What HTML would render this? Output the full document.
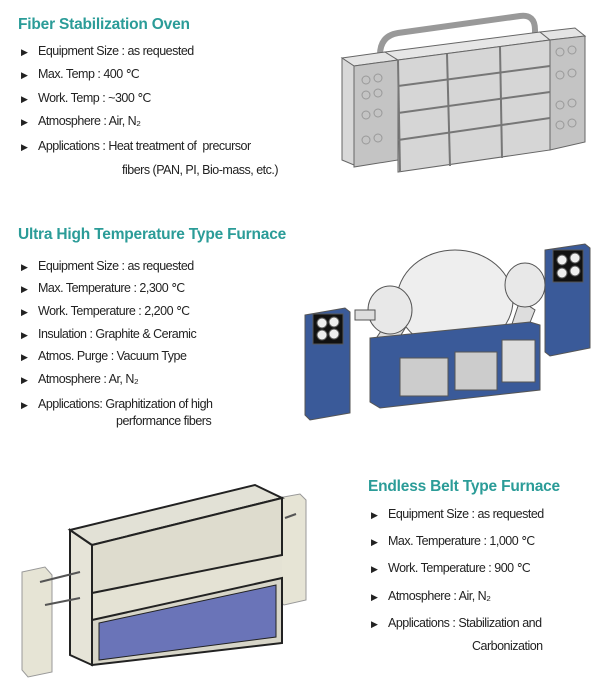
<!DOCTYPE html>
<html><head><meta charset="utf-8"><style>
body{margin:0;width:600px;height:700px;background:#fff;position:relative;overflow:hidden;font-family:"Liberation Sans",sans-serif;}
.t{position:absolute;color:#2b9c98;font-weight:bold;font-size:15.5px;white-space:nowrap;letter-spacing:-0.2px}
.l{position:absolute;font-size:12.5px;color:#222;white-space:nowrap;letter-spacing:-0.5px;line-height:14px}
.l:before{content:"\25B6";font-size:9px;position:absolute;left:-17px;top:1px}
.n{position:absolute;font-size:12.5px;color:#222;white-space:nowrap;letter-spacing:-0.5px;line-height:14px}
svg{position:absolute;left:0;top:0}
</style></head><body>
<div class="t" style="left:18px;top:16px">Fiber Stabilization Oven</div>
<div class="l" style="left:38px;top:44px">Equipment Size : as requested</div>
<div class="l" style="left:38px;top:67px">Max. Temp : 400 ℃</div>
<div class="l" style="left:38px;top:91px">Work. Temp : ~300 ℃</div>
<div class="l" style="left:38px;top:114px">Atmosphere : Air, N₂</div>
<div class="l" style="left:38px;top:139px">Applications : Heat treatment of &nbsp;precursor</div>
<div class="n" style="left:122px;top:163px">fibers (PAN, PI, Bio-mass, etc.)</div>

<div class="t" style="left:18px;top:226px">Ultra High Temperature Type Furnace</div>
<div class="l" style="left:38px;top:259px">Equipment Size : as requested</div>
<div class="l" style="left:38px;top:281px">Max. Temperature : 2,300 ℃</div>
<div class="l" style="left:38px;top:304px">Work. Temperature : 2,200 ℃</div>
<div class="l" style="left:38px;top:327px">Insulation : Graphite &amp; Ceramic</div>
<div class="l" style="left:38px;top:349px">Atmos. Purge : Vacuum Type</div>
<div class="l" style="left:38px;top:372px">Atmosphere : Ar, N₂</div>
<div class="l" style="left:38px;top:397px">Applications: Graphitization of high</div>
<div class="n" style="left:116px;top:414px">performance fibers</div>

<div class="t" style="left:368px;top:478px">Endless Belt Type Furnace</div>
<div class="l" style="left:388px;top:507px">Equipment Size : as requested</div>
<div class="l" style="left:388px;top:534px">Max. Temperature : 1,000 ℃</div>
<div class="l" style="left:388px;top:561px">Work. Temperature : 900 ℃</div>
<div class="l" style="left:388px;top:589px">Atmosphere : Air, N₂</div>
<div class="l" style="left:388px;top:616px">Applications : Stabilization and</div>
<div class="n" style="left:472px;top:639px">Carbonization</div>

<svg width="600" height="700" viewBox="0 0 600 700">
<!-- oven 1 -->
<g stroke="#666" stroke-width="1" fill="#d8d8d8">
<path d="M380 55 Q380 36 398 33 L520 16 Q535 14 535 30 L535 40" fill="none" stroke="#999" stroke-width="6"/>
<polygon points="342,58 385,52 398,60 354,66" fill="#e4e4e4"/>
<polygon points="342,58 354,66 354,165 342,160"/>
<polygon points="354,66 398,60 398,160 354,167" fill="#c4c4c4"/>
<polygon points="385,52 540,32 550,40 398,60" fill="#e6e6e6"/>
<polygon points="398,60 550,40 550,150 398,172" fill="#d6d6d6"/>
<polygon points="540,32 575,28 585,36 550,40" fill="#e4e4e4"/>
<polygon points="550,40 585,36 585,142 550,150" fill="#c4c4c4"/>
</g>
<g fill="none" stroke="#999" stroke-width="1">
<circle cx="366" cy="80" r="4"/><circle cx="378" cy="78" r="4"/><circle cx="366" cy="95" r="4"/><circle cx="378" cy="93" r="4"/>
<circle cx="366" cy="115" r="4"/><circle cx="378" cy="113" r="4"/><circle cx="366" cy="140" r="4"/><circle cx="378" cy="138" r="4"/>
<circle cx="560" cy="52" r="4"/><circle cx="572" cy="50" r="4"/><circle cx="560" cy="75" r="4"/><circle cx="572" cy="73" r="4"/>
<circle cx="560" cy="105" r="4"/><circle cx="572" cy="103" r="4"/><circle cx="560" cy="125" r="4"/><circle cx="572" cy="123" r="4"/>
</g>
<g stroke="#777" stroke-width="2">
<line x1="398" y1="86" x2="550" y2="66"/><line x1="398" y1="113" x2="550" y2="92"/><line x1="398" y1="140" x2="550" y2="118"/>
<line x1="447" y1="54" x2="450" y2="166"/><line x1="500" y1="47" x2="502" y2="158"/><line x1="398" y1="60" x2="400" y2="172"/>
</g>
<!-- furnace 2 -->
<g stroke="#555" stroke-width="1">
<polygon points="305,315 345,308 350,312 350,413 310,420 305,415" fill="#3a5a99"/>
<rect x="313" y="314" width="30" height="30" fill="#111"/>
<circle cx="322" cy="323" r="5" fill="#eee"/><circle cx="334" cy="322" r="5" fill="#eee"/><circle cx="322" cy="335" r="5" fill="#eee"/><circle cx="334" cy="334" r="5" fill="#eee"/>
<polygon points="545,250 585,244 590,248 590,348 550,356 545,352" fill="#3a5a99"/>
<rect x="553" y="250" width="30" height="32" fill="#111"/>
<circle cx="562" cy="260" r="5" fill="#eee"/><circle cx="575" cy="258" r="5" fill="#eee"/><circle cx="562" cy="273" r="5" fill="#eee"/><circle cx="575" cy="271" r="5" fill="#eee"/>
<polygon points="375,340 395,310 410,320 395,345" fill="#ddd"/>
<polygon points="510,330 520,300 535,310 525,335" fill="#ddd"/>
<polygon points="450,340 470,320 500,320 490,345" fill="#ddd"/>
<ellipse cx="455" cy="300" rx="58" ry="50" fill="#eee"/>
<ellipse cx="390" cy="310" rx="22" ry="24" fill="#e8e8e8"/>
<ellipse cx="525" cy="285" rx="20" ry="22" fill="#e8e8e8"/>
<rect x="355" y="310" width="20" height="10" fill="#ddd"/>
<polygon points="370,338 530,322 540,325 540,390 380,408 370,402" fill="#3a5a99"/>
<rect x="400" y="358" width="48" height="38" fill="#ccc"/>
<rect x="455" y="352" width="42" height="38" fill="#ccc"/>
<rect x="502" y="340" width="33" height="42" fill="#ddd"/>
</g>
<!-- belt furnace 3 -->
<g stroke="#999" stroke-width="1" fill="#e6e4d5">
<polygon points="22,572 45,567 52,575 52,672 28,677 22,670"/>
<polygon points="278,498 300,494 306,500 306,600 284,605 278,600"/>
</g>
<polygon points="92,593 282,555 282,578 92,620" fill="#e4e2d4"/>
<g stroke="#222" stroke-width="2">
<polygon points="70,530 92,545 92,665 70,655" fill="#e6e4d8"/>
<polygon points="70,530 255,485 282,498 92,545" fill="#e2e1d6"/>
<polygon points="92,545 282,498 282,555 92,593" fill="#dedcce"/>
<polygon points="92,620 282,578 282,643 92,665" fill="#d7d5c8"/>
<polygon points="99,623 276,585 276,637 99,660" fill="#6a74b8" stroke-width="1"/>
</g>
<g stroke="#555" stroke-width="2"><line x1="40" y1="582" x2="80" y2="572"/><line x1="45" y1="605" x2="80" y2="598"/><line x1="285" y1="518" x2="296" y2="514"/></g>
</svg>
</body></html>
